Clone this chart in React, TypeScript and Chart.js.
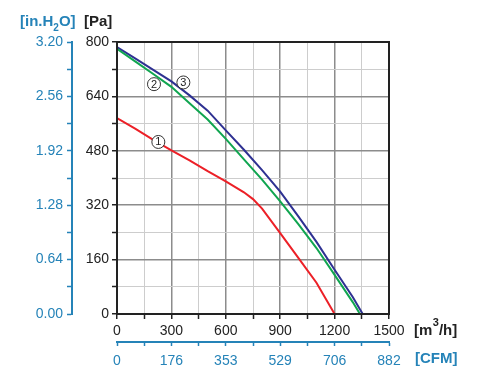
import React, { useEffect, useRef } from "react";
import { Chart, registerables } from "chart.js";

Chart.register(...registerables);

// ---- data ----
const flowRed = [0, 100, 200, 300, 400, 500, 600, 700, 750, 800, 900, 1000, 1100, 1200];
const paRed = [576, 545, 512, 481, 452, 420, 390, 358, 338, 310, 238, 165, 92, 0];

const flowGreen = [0, 100, 200, 300, 400, 500, 600, 700, 800, 900, 1000, 1100, 1200, 1300, 1340];
const paGreen = [780, 743, 706, 668, 620, 572, 515, 455, 395, 331, 264, 194, 115, 35, 0];

const flowBlue = [0, 100, 200, 300, 400, 500, 600, 700, 800, 900, 1000, 1100, 1200, 1300, 1355];
const paBlue = [785, 752, 718, 684, 643, 598, 540, 483, 423, 360, 287, 212, 130, 50, 0];

const xTickLabels = ["0", "300", "600", "900", "1200", "1500"];
const cfmTickLabels = ["0", "176", "353", "529", "706", "882"];
const paTickLabels = ["0", "160", "320", "480", "640", "800"];
const inTickLabels = ["0.00", "0.64", "1.28", "1.92", "2.56", "3.20"];
const inTickValues = [0, 0.32, 0.64, 0.96, 1.28, 1.6, 1.92, 2.24, 2.56, 2.88, 3.2];

// curve labels (data units: m3/h, Pa)
const curveLabels = [
  { text: "1", x: 228, y: 506 },
  { text: "2", x: 204, y: 676 },
  { text: "3", x: 366, y: 681 },
];

const FONT = "'Liberation Sans', Arial, sans-serif";
const BLUE = "#2583b8";
const DARK = "#222222";

const toPts = (xs: number[], ys: number[]) => xs.map((x, i) => ({ x, y: ys[i] }));

const decor = {
  id: "decor",
  afterDatasetsDraw(chart: any) {
    const { ctx, chartArea: a, scales } = chart;
    ctx.save();
    ctx.strokeStyle = DARK;
    ctx.lineWidth = 2;
    ctx.strokeRect(a.left, a.top, a.right - a.left, a.bottom - a.top);
    // curve labels
    curveLabels.forEach((l) => {
      const px = scales.x.getPixelForValue(l.x);
      const py = scales.y.getPixelForValue(l.y);
      ctx.beginPath();
      ctx.arc(px, py, 6.5, 0, Math.PI * 2);
      ctx.fillStyle = "#ffffff";
      ctx.fill();
      ctx.lineWidth = 1;
      ctx.strokeStyle = "#333";
      ctx.stroke();
      ctx.fillStyle = "#222";
      ctx.font = `11px ${FONT}`;
      ctx.textAlign = "center";
      ctx.textBaseline = "middle";
      ctx.fillText(l.text, px, py + 0.5);
    });
    ctx.restore();
  },
  afterDraw(chart: any) {
    const { ctx } = chart;
    ctx.save();
    ctx.textBaseline = "alphabetic";
    ctx.textAlign = "left";
    // [in.H2O]
    ctx.fillStyle = BLUE;
    ctx.font = `bold 15px ${FONT}`;
    let x = 20;
    ctx.fillText("[in.H", x, 26);
    x += ctx.measureText("[in.H").width;
    ctx.font = `bold 10px ${FONT}`;
    ctx.fillText("2", x, 31);
    x += ctx.measureText("2").width;
    ctx.font = `bold 15px ${FONT}`;
    ctx.fillText("O]", x, 26);
    // [Pa]
    ctx.fillStyle = DARK;
    ctx.fillText("[Pa]", 84, 26);
    // [m3/h]
    x = 414;
    ctx.fillText("[m", x, 335);
    x += ctx.measureText("[m").width;
    ctx.font = `bold 11px ${FONT}`;
    ctx.fillText("3", x + 0.5, 326);
    x += ctx.measureText("3").width + 0.5;
    ctx.font = `bold 15px ${FONT}`;
    ctx.fillText("/h]", x, 335);
    // [CFM]
    ctx.fillStyle = BLUE;
    ctx.fillText("[CFM]", 415, 363);
    ctx.restore();
  },
};

export default function App() {
  const ref = useRef<HTMLCanvasElement>(null);
  useEffect(() => {
    if (!ref.current) return;
    const gridColor = (major: number) => (c: any) =>
      c.tick && Math.round(c.tick.value) % major === 0 ? "#8c8c8c" : "#cdcdcd";
    const gridWidth = (major: number) => (c: any) =>
      c.tick && Math.round(c.tick.value) % major === 0 ? 1.5 : 1;
    const chart = new Chart(ref.current, {
      type: "line",
      data: {
        datasets: [
          { data: toPts(flowRed, paRed), borderColor: "#ec2027", borderWidth: 2, pointRadius: 0, xAxisID: "x", yAxisID: "y" },
          { data: toPts(flowGreen, paGreen), borderColor: "#10a550", borderWidth: 2, pointRadius: 0, xAxisID: "x", yAxisID: "y" },
          { data: toPts(flowBlue, paBlue), borderColor: "#2e3192", borderWidth: 2, pointRadius: 0, xAxisID: "x", yAxisID: "y" },
        ],
      },
      options: {
        animation: false,
        responsive: false,
        events: [],
        layout: { padding: { top: 42, right: 94, left: 0, bottom: 0 } },
        plugins: { legend: { display: false }, tooltip: { enabled: false }, title: { display: false } },
        scales: {
          x: {
            type: "linear",
            position: "bottom",
            weight: 0,
            min: 0,
            max: 1500,
            ticks: {
              stepSize: 150,
              autoSkip: false,
              maxRotation: 0,
              padding: 4,
              color: DARK,
              font: { family: FONT, size: 14 },
              callback: (_v: any, i: number) => (i % 2 === 0 ? xTickLabels[i / 2] : ""),
            },
            grid: { color: gridColor(300), lineWidth: gridWidth(300), tickColor: DARK, tickLength: 5, tickWidth: 1.5 },
            border: { display: true, color: DARK, width: 2 },
            afterFit: (s: any) => { s.height = 28; },
          },
          cfm: {
            type: "linear",
            position: "bottom",
            weight: 1,
            min: 0,
            max: 1500,
            ticks: {
              stepSize: 150,
              autoSkip: false,
              maxRotation: 0,
              padding: 7,
              color: BLUE,
              font: { family: FONT, size: 14 },
              callback: (_v: any, i: number) => (i % 2 === 0 ? cfmTickLabels[i / 2] : ""),
            },
            grid: { drawOnChartArea: false, tickColor: BLUE, tickLength: 4, tickWidth: 1.5 },
            border: { display: true, color: BLUE, width: 2 },
            afterFit: (s: any) => { s.height = 36; },
          },
          y: {
            type: "linear",
            position: "left",
            weight: 0,
            min: 0,
            max: 800,
            ticks: {
              stepSize: 80,
              autoSkip: false,
              padding: 3,
              color: DARK,
              font: { family: FONT, size: 14 },
              callback: (_v: any, i: number) => (i % 2 === 0 ? paTickLabels[i / 2] : ""),
            },
            grid: { color: gridColor(160), lineWidth: gridWidth(160), tickColor: DARK, tickLength: 5, tickWidth: 1.5 },
            border: { display: true, color: DARK, width: 2 },
            afterFit: (s: any) => { s.width = 45; },
          },
          inh2o: {
            type: "linear",
            position: "left",
            weight: 1,
            min: 0,
            max: 3.2,
            afterBuildTicks: (s: any) => { s.ticks = inTickValues.map((v) => ({ value: v })); },
            ticks: {
              autoSkip: false,
              padding: 4,
              color: BLUE,
              font: { family: FONT, size: 14 },
              callback: (_v: any, i: number) => (i % 2 === 0 ? inTickLabels[i / 2] : ""),
            },
            grid: { drawOnChartArea: false, tickColor: BLUE, tickLength: 5, tickWidth: 1.5 },
            border: { display: true, color: BLUE, width: 2 },
            afterFit: (s: any) => { s.width = 72; },
          },
        },
      },
      plugins: [decor],
    } as any);
    return () => chart.destroy();
  }, []);
  return (
    <div style={{ position: "absolute", left: 0, top: 0, width: 483, height: 378, background: "#fff" }}>
      <canvas ref={ref} width={483} height={378} />
    </div>
  );
}
